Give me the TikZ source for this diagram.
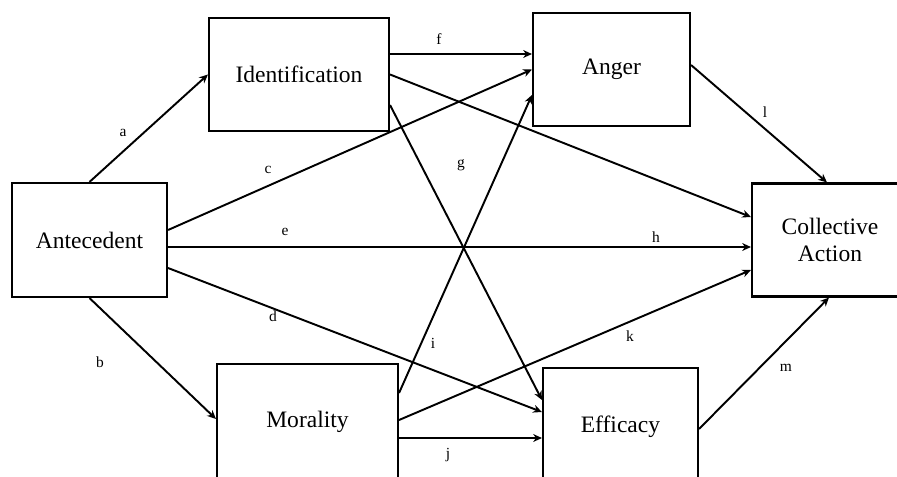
\documentclass[tikz,border=0pt]{standalone}
\usepackage{fontspec}
\setmainfont{Liberation Serif}
\usetikzlibrary{arrows.meta,calc}

\begin{document}
\begin{tikzpicture}[x=0.02cm, y=-0.02cm,
  nd/.style={rectangle, draw, line width=1.2pt, inner sep=0pt, align=center,
             font=\fontsize{13.4}{15.5}\selectfont},
  ar/.style={-{Stealth[length=5pt, width=4.5pt]}, line width=1.1pt},
  lb/.style={font=\fontsize{8.8}{10}\selectfont, inner sep=0pt},
]
\useasboundingbox (0,0) rectangle (897,477);
\clip (0,0) rectangle (897,477);

\node[nd, minimum width=3.1cm,  minimum height=2.28cm] (ante)  at (89.5,240)  {Antecedent};
\node[nd, minimum width=3.6cm,  minimum height=2.26cm] (ident) at (299,74.5)  {Identification};
\node[nd, minimum width=3.14cm, minimum height=2.26cm] (anger) at (611.5,69.5) {Anger};
\node[nd, minimum width=3.12cm, minimum height=2.26cm] (coll)  at (830,240)   {Collective\\Action};
\node[nd, minimum width=3.62cm, minimum height=2.32cm] (moral) at (307.5,422) {Morality};
\node[nd, minimum width=3.1cm,  minimum height=2.36cm] (effic) at (620.5,427) {Efficacy};

\draw[ar] (ante.north) -- (ident.west);
\draw[ar] (ante.south) -- ($(moral.west)+(0,-3)$);
\draw[ar] ($(ante.east)+(0,-10)$) -- (anger.west);
\draw[ar] ($(ante.east)+(0,28)$) -- ($(effic.west)+(0,-15)$);
\draw[ar] ($(ante.east)+(0,7)$) -- ($(coll.west)+(0,7)$);
\draw[ar] ($(ident.east)+(0,-20.5)$) -- ($(anger.west)+(0,-15.5)$);
\draw[ar] ($(ident.east)+(0,30.5)$) -- ($(effic.west)+(0,-27)$);
\draw[ar] (ident.east) -- ($(coll.west)+(0,-23)$);
\draw[ar] ($(moral.east)+(0,-29)$) -- ($(anger.west)+(0,25.5)$);
\draw[ar] ($(moral.east)+(0,16)$) -- ($(effic.west)+(0,11)$);
\draw[ar] ($(moral.east)+(0,-2)$) -- ($(coll.west)+(0,30)$);
\draw[ar] ($(anger.east)+(0,-4.5)$) -- ($(coll.north)+(-3,0)$);
\draw[ar] ($(effic.east)+(0,2)$) -- ($(coll.south)+(-1,0)$);

\node[lb] (la) at (123,133) {a};
\node[lb] (lbb) at (100,362) {b};
\node[lb] (lc) at (268,170) {c};
\node[lb] (ld) at (273,316) {d};
\node[lb] (le) at (285,232) {e};
\node[lb] (lf) at (439,39)  {f};
\node[lb] (lg) at (461,165) {g};
\node[lb] (lh) at (656,237) {h};
\node[lb] (li) at (433,343) {i};
\node[lb] (lj) at (448,455) {j};
\node[lb] (lk) at (630,336) {k};
\node[lb] (ll) at (765,112) {l};
\node[lb] (lm) at (786,368) {m};
\end{tikzpicture}
\end{document}
